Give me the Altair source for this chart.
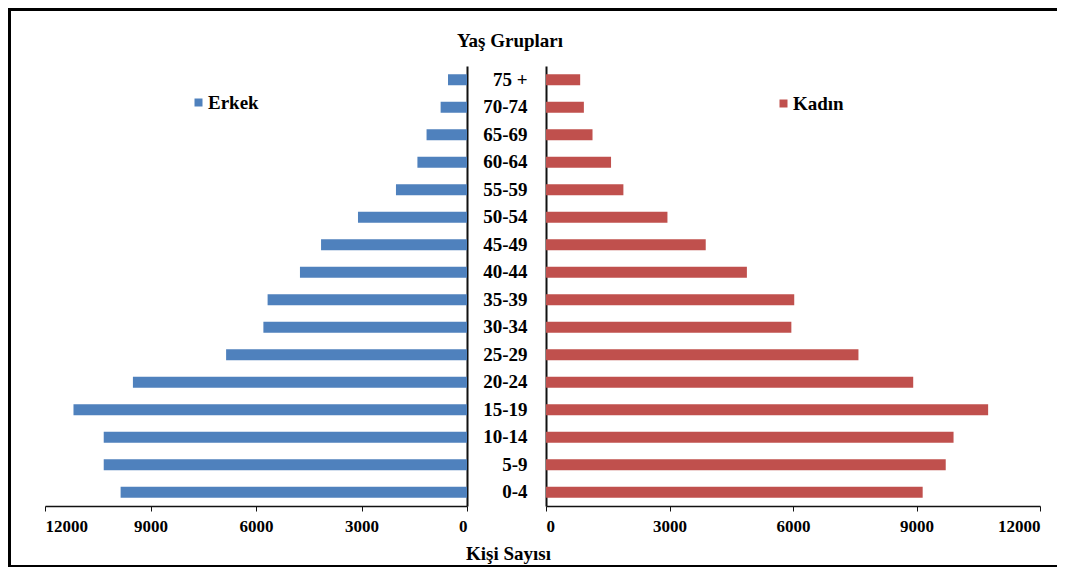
import altair as alt
import pandas as pd

# Age groups (bottom to top) and counts
ages = ["0-4", "5-9", "10-14", "15-19", "20-24", "25-29", "30-34", "35-39",
        "40-44", "45-49", "50-54", "55-59", "60-64", "65-69", "70-74", "75 +"]
erkek = [9850, 10330, 10330, 11190, 9500, 6850, 5790, 5670,
         4750, 4150, 3100, 2020, 1410, 1150, 750, 540]
kadin = [9150, 9710, 9900, 10740, 8920, 7590, 5960, 6030,
         4880, 3880, 2950, 1880, 1580, 1130, 920, 830]
tick_values = [0, 3000, 6000, 9000, 12000]
series = ["Erkek", "Kadın"]
colors = ["#4F81BD", "#C0504D"]

df = pd.DataFrame({
    "Yaş": ages * 2,
    "Sayı": erkek + kadin,
    "Cinsiyet": [series[0]] * len(ages) + [series[1]] * len(ages),
})
order_top_down = ages[::-1]

FONT = "Liberation Serif"
y_scale = alt.Scale(paddingInner=0.6, paddingOuter=0.3)

left_bars = alt.Chart(df).transform_filter(
    alt.datum.Cinsiyet == series[0]
).mark_bar().encode(
    x=alt.X("Sayı:Q",
            scale=alt.Scale(domain=[0, 12000], reverse=True, nice=False),
            axis=alt.Axis(values=tick_values, format="d", title="Kişi Sayısı",
                          titleX=463, titleY=53, titleAlign="center",
                          titleBaseline="alphabetic", titleAngle=0)),
    y=alt.Y("Yaş:N", sort=order_top_down, scale=y_scale,
            axis=alt.Axis(orient="right", labels=False, ticks=False, title=None,
                          domainWidth=2)),
    color=alt.Color("Cinsiyet:N",
                    scale=alt.Scale(domain=[series[0]], range=[colors[0]]),
                    legend=alt.Legend(orient="none", legendX=144, legendY=27,
                                      title=None)),
)

# decorative picture frame (left, top and bottom edges only)
frame_data = pd.DataFrame({"k": [0]})
top_edge = alt.Chart(frame_data).mark_rect(color="black").encode(
    x=alt.value(-37), x2=alt.value(1012), y=alt.value(-58), y2=alt.value(-55))
left_edge = alt.Chart(frame_data).mark_rect(color="black").encode(
    x=alt.value(-37), x2=alt.value(-34), y=alt.value(-58), y2=alt.value(501))
bottom_edge = alt.Chart(frame_data).mark_rect(color="black").encode(
    x=alt.value(-37), x2=alt.value(1012), y=alt.value(499), y2=alt.value(501))

left = alt.layer(left_bars, top_edge, left_edge, bottom_edge).properties(
    width=422, height=440)

right = alt.Chart(df).transform_filter(
    alt.datum.Cinsiyet == series[1]
).mark_bar().encode(
    x=alt.X("Sayı:Q",
            scale=alt.Scale(domain=[0, 12000], nice=False),
            axis=alt.Axis(values=tick_values, format="d", title=None)),
    y=alt.Y("Yaş:N", sort=order_top_down, scale=y_scale,
            axis=alt.Axis(orient="left", ticks=False, labelPadding=19,
                          labelAlign="right", domainWidth=2, labelFontSize=19,
                          title="Yaş  Grupları", titleAngle=0, titleFontSize=19,
                          titleX=-36.5, titleY=-20, titleAlign="center",
                          titleBaseline="alphabetic")),
    color=alt.Color("Cinsiyet:N",
                    scale=alt.Scale(domain=[series[1]], range=[colors[1]]),
                    legend=alt.Legend(orient="none", legendX=228, legendY=28,
                                      title=None)),
).properties(width=494, height=440)

chart = alt.hconcat(left, right, spacing=79, bounds="flush").resolve_scale(
    color="independent"
).resolve_legend(color="independent").properties(
    padding=0
).configure_view(stroke=None).configure_axis(
    grid=False,
    labelFont=FONT, labelFontWeight="bold", labelFontSize=17, labelColor="black",
    titleFont=FONT, titleFontWeight="bold", titleFontSize=19, titleColor="black",
    domainColor="#111111", domainWidth=1.5, tickColor="#111111", tickSize=5,
    labelPadding=7,
).configure_legend(
    labelFont=FONT, labelFontWeight="bold", labelFontSize=19, labelColor="black",
    symbolType="square", symbolSize=64, symbolStrokeWidth=0, padding=0,
    symbolOffset=0, labelOffset=0,
)

chart.save("out.html", embed_options={"renderer": "svg", "actions": False})
